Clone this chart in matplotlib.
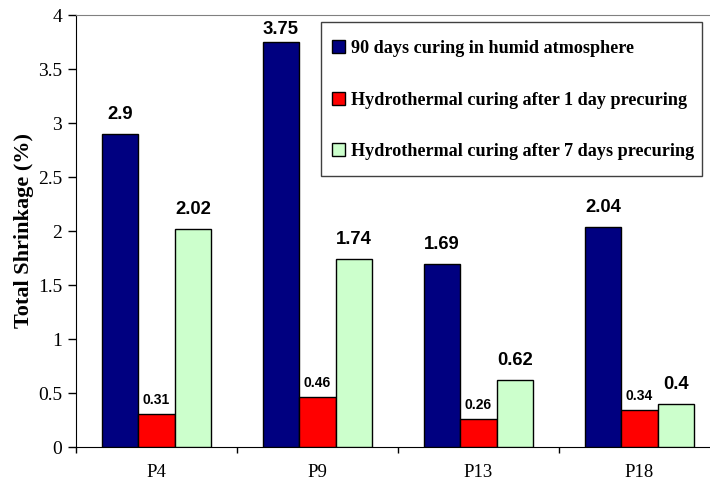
import matplotlib
matplotlib.use("Agg")
import matplotlib.pyplot as plt
from matplotlib.patches import Rectangle
import numpy as np

categories = ["P4", "P9", "P13", "P18"]
series_names = [
    "90 days curing in humid atmosphere",
    "Hydrothermal curing after 1 day precuring",
    "Hydrothermal curing after 7 days precuring",
]
humid_90d = [2.9, 3.75, 1.69, 2.04]
hydro_1d = [0.31, 0.46, 0.26, 0.34]
hydro_7d = [2.02, 1.74, 0.62, 0.4]
label_texts = [
    ["2.9", "3.75", "1.69", "2.04"],
    ["0.31", "0.46", "0.26", "0.34"],
    ["2.02", "1.74", "0.62", "0.4"],
]
y_ticks = [0, 0.5, 1, 1.5, 2, 2.5, 3, 3.5, 4]
y_ticklabels = ["0", "0.5", "1", "1.5", "2", "2.5", "3", "3.5", "4"]

colors = ["#000080", "#FF0000", "#CCFFCC"]
label_sizes = [13.3, 10, 13.3]
label_offsets = [[10.8, 5.8, 10.8, 10.8], [7.2, 7.2, 7.2, 7.2], [10.8, 10.8, 10.8, 10.8]]

SERIF = ["Liberation Serif", "DejaVu Serif"]
SANS = ["Liberation Sans", "DejaVu Sans"]

W, H = 710, 484
fig = plt.figure(figsize=(W / 100, H / 100), dpi=100)
ax = fig.add_axes([76 / W, 37 / H, 644 / W, 432 / H])

x = np.arange(len(categories))
bw = 0.227
data = [humid_90d, hydro_1d, hydro_7d]
for i, (vals, c, name) in enumerate(zip(data, colors, series_names)):
    xs = x + (i - 1) * bw
    ax.bar(xs, vals, width=bw, color=c, edgecolor="black", linewidth=1.0,
           label=name, zorder=3)
    for j, (xx, v) in enumerate(zip(xs, vals)):
        ax.annotate(label_texts[i][j], (xx, v), xytext=(0, label_offsets[i][j]),
                    textcoords="offset points", ha="center", va="baseline",
                    fontsize=label_sizes[i], fontweight="bold", family=SANS,
                    zorder=4)

ax.set_xlim(-0.5, 3.5)
ax.set_ylim(0, 4)
ax.set_yticks(y_ticks)
ax.set_yticklabels(y_ticklabels, family=SERIF, fontsize=14)
ax.set_xticks(x)
ax.set_xticklabels(categories, family=SERIF, fontsize=13.5)
ax.set_xticks(np.arange(-0.5, 4.0, 1.0), minor=True)
ax.tick_params(axis="x", which="major", length=0, pad=12)
ax.tick_params(axis="x", which="minor", length=4.5, width=1, direction="out")
ax.tick_params(axis="y", length=6, width=1, direction="out", pad=4)

ax.spines["top"].set_color("#808080")
ax.spines["right"].set_color("#808080")
ax.spines["left"].set_color("black")
ax.spines["bottom"].set_color("black")

ax.set_ylabel("Total Shrinkage (%)", family=SERIF, fontsize=16,
              fontweight="bold", labelpad=3)

# legend frame
frame = Rectangle((321 / W, 1 - 176 / H), 381 / W, 154 / H,
                  transform=fig.transFigure, facecolor="white",
                  edgecolor="#404040", linewidth=1.0, clip_on=False, zorder=5)
ax.add_patch(frame)

leg = ax.legend(loc="upper left", bbox_to_anchor=(332 / W, 1 - 40 / H),
                bbox_transform=fig.transFigure, frameon=False,
                prop={"family": SERIF, "size": 13.1, "weight": "bold"},
                handlelength=0.7, handleheight=0.7, handletextpad=0.32,
                labelspacing=1.9, borderpad=0, borderaxespad=0)
leg.set_zorder(6)
for h in leg.legend_handles:
    h.set_edgecolor("black")
    h.set_linewidth(1.0)

fig.savefig("out.png", dpi=100)
